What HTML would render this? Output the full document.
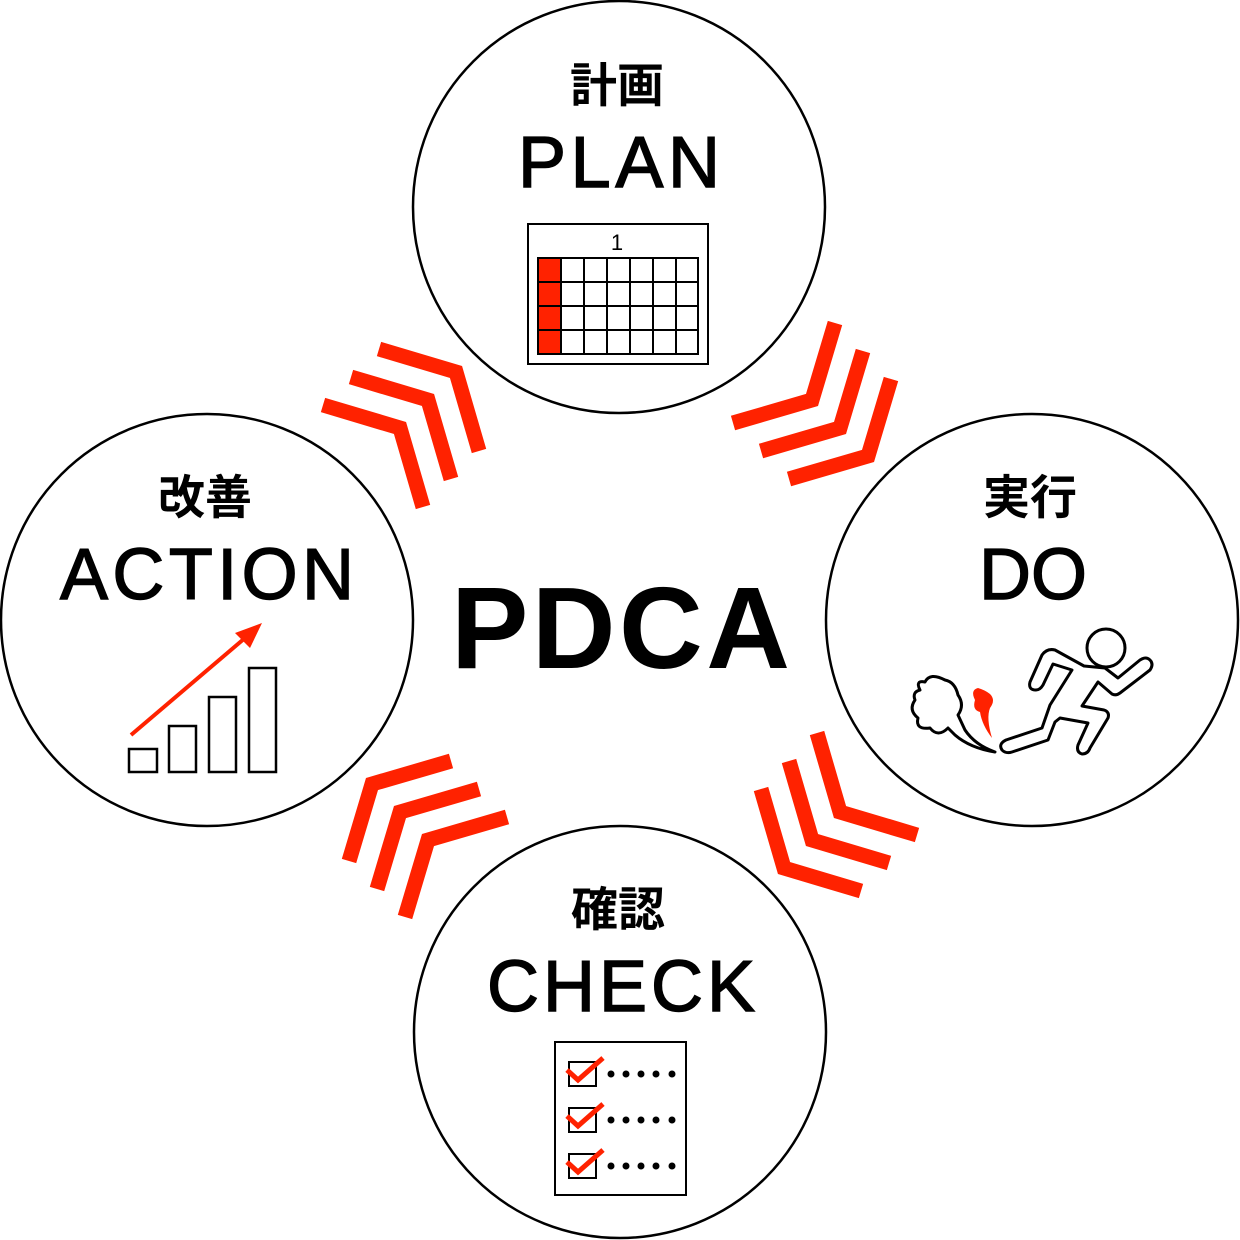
<!DOCTYPE html>
<html><head><meta charset="utf-8"><style>
html,body{margin:0;padding:0;background:#fff}
svg{display:block}
text{font-family:"Liberation Sans","Noto Sans CJK JP",sans-serif}
.big{font-size:72px;stroke:#000;stroke-width:1.4}
.jp{font-size:47px;font-weight:bold}
</style></head><body>
<svg width="1240" height="1240" viewBox="0 0 1240 1240" xmlns="http://www.w3.org/2000/svg">
<defs>
<g id="chev" fill="none" stroke="#ff2200" stroke-width="15" stroke-linejoin="miter">
<polyline points="835,323 812,400 733,423"/>
<polyline points="863,351 840,428 761,451"/>
<polyline points="891,379 868,456 789,479"/>
</g>
</defs>
<g fill="#fff" stroke="#000" stroke-width="2.5">
<circle cx="619" cy="207" r="206"/>
<circle cx="1032" cy="620" r="206"/>
<circle cx="620" cy="1032" r="206"/>
<circle cx="207" cy="620" r="206"/>
</g>
<use href="#chev"/>
<use href="#chev" transform="rotate(90 620 620)"/>
<use href="#chev" transform="rotate(180 620 620)"/>
<use href="#chev" transform="rotate(270 620 620)"/>

<text x="451" y="668" font-size="116" font-weight="bold" textLength="339" lengthAdjust="spacing">PDCA</text>

<text x="617" y="102" class="jp" text-anchor="middle">計画</text>
<text x="518" y="187" class="big" textLength="202" lengthAdjust="spacing">PLAN</text>
<text x="1030" y="514" class="jp" text-anchor="middle">実行</text>
<text x="979" y="599" class="big" textLength="108" lengthAdjust="spacing">DO</text>
<text x="618" y="926" class="jp" text-anchor="middle">確認</text>
<text x="487" y="1011" class="big" textLength="268" lengthAdjust="spacing">CHECK</text>
<text x="205" y="514" class="jp" text-anchor="middle">改善</text>
<text x="60" y="599" class="big" textLength="294" lengthAdjust="spacing">ACTION</text>

<!-- calendar -->
<rect x="528" y="224" width="180" height="140" fill="#fff" stroke="#000" stroke-width="2"/>
<text x="617" y="250" font-size="22" text-anchor="middle">1</text>
<rect x="538" y="258" width="23" height="96" fill="#ff2200"/>
<g stroke="#000" stroke-width="2" fill="none">
<rect x="538" y="258" width="160" height="96"/>
<path d="M561 258V354M584 258V354M607 258V354M630 258V354M653 258V354M676 258V354M538 282H698M538 306H698M538 330H698"/>
</g>

<!-- checklist -->
<rect x="555" y="1042" width="131" height="153" fill="#fff" stroke="#000" stroke-width="2"/>
<g stroke="#000" stroke-width="2" fill="#fff">
<rect x="569" y="1062" width="27" height="24"/>
<rect x="569" y="1108" width="27" height="24"/>
<rect x="569" y="1154" width="27" height="24"/>
</g>
<g fill="none" stroke="#ff2200" stroke-width="5">
<polyline points="567,1070 578,1080 603,1058"/>
<polyline points="567,1116 578,1126 603,1104"/>
<polyline points="567,1162 578,1172 603,1150"/>
</g>
<g fill="#000">
<circle cx="611" cy="1074" r="3.5"/><circle cx="626" cy="1074" r="3.5"/><circle cx="641" cy="1074" r="3.5"/><circle cx="656" cy="1074" r="3.5"/><circle cx="672" cy="1074" r="3.5"/>
<circle cx="611" cy="1120" r="3.5"/><circle cx="626" cy="1120" r="3.5"/><circle cx="641" cy="1120" r="3.5"/><circle cx="656" cy="1120" r="3.5"/><circle cx="672" cy="1120" r="3.5"/>
<circle cx="611" cy="1166" r="3.5"/><circle cx="626" cy="1166" r="3.5"/><circle cx="641" cy="1166" r="3.5"/><circle cx="656" cy="1166" r="3.5"/><circle cx="672" cy="1166" r="3.5"/>
</g>

<!-- action bars -->
<g fill="#fff" stroke="#000" stroke-width="2.5">
<rect x="129" y="749" width="28" height="23"/>
<rect x="169" y="726" width="27" height="46"/>
<rect x="209" y="697" width="27" height="75"/>
<rect x="249" y="668" width="27" height="104"/>
</g>
<line x1="131" y1="735" x2="245" y2="638" stroke="#ff2200" stroke-width="4"/>
<polygon points="262,623 235,633 250,648" fill="#ff2200"/>

<!-- runner -->
<g fill="#fff" stroke="#000" stroke-width="3" stroke-linejoin="round">
<circle cx="1106" cy="648" r="19"/>
<path d="M1084 666 L1055 650 Q1047 648 1042 655 L1030 682 Q1028 690 1036 690 Q1040 690 1043 685 L1053 664 L1072 670 L1050 705 L1042 728 L1006 740 Q998 744 1002 750 Q1006 754 1012 752 L1048 740 L1055 722 L1060 718 L1088 723 L1078 745 Q1076 752 1082 754 Q1088 754 1090 748 L1108 718 Q1110 712 1104 710 L1082 706 L1098 682 L1112 694 Q1116 696 1120 693 L1150 670 Q1154 664 1150 660 Q1146 656 1140 660 L1118 678 L1105 668 Z"/>
<path d="M920 690 Q915 680 925 682 Q930 672 945 680 Q955 682 958 695 Q965 705 958 715 L965 730 Q975 745 995 752 Q970 748 955 735 L948 728 Q938 738 930 728 Q915 730 918 718 Q908 710 915 700 Q912 692 920 690 Z"/>
</g>
<path d="M975 700 Q970 690 978 688 Q985 690 990 694 Q996 700 990 708 Q986 718 992 738 Q982 725 980 712 Q972 710 975 700 Z" fill="#ff2200"/>
</svg>
</body></html>
